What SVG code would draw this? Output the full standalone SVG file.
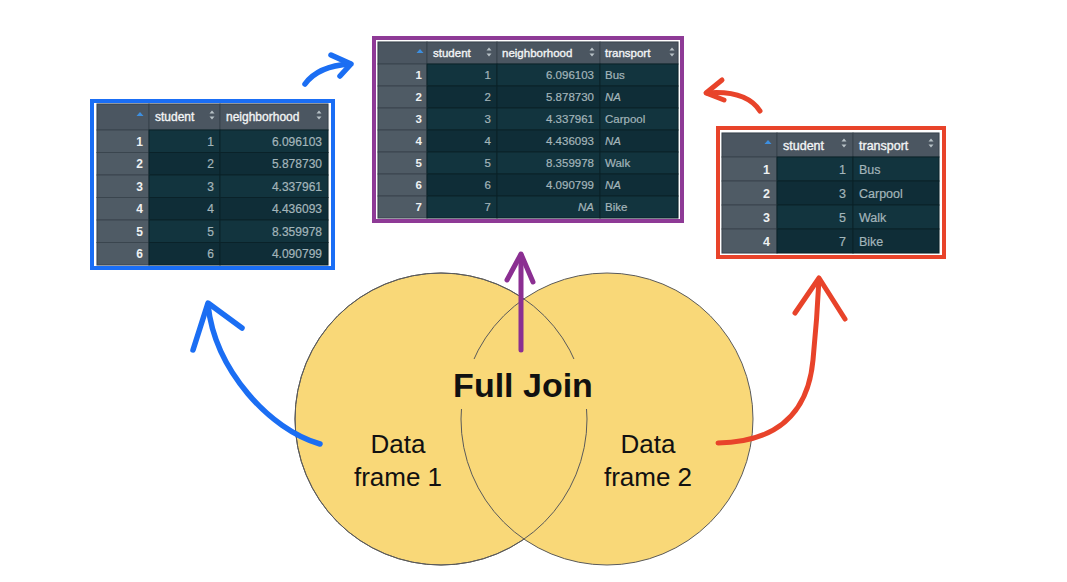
<svg xmlns="http://www.w3.org/2000/svg" xmlns:xlink="http://www.w3.org/1999/xlink" width="1067" height="582" viewBox="0 0 1067 582">
<style>
.hd{fill:#4b5661;stroke:#39434c;stroke-width:1}
.rn{fill:#4f5b65;stroke:#3a454e;stroke-width:1}
.c1{fill:#12343e;stroke:#0a2229;stroke-width:1}
.c2{fill:#0f2d37;stroke:#0a2229;stroke-width:1}
.ht{font-family:"Liberation Sans",Arial,sans-serif;fill:#f2f4f5;stroke:#f2f4f5;stroke-width:0.35}
.nt{font-family:"Liberation Sans",Arial,sans-serif;fill:#eef1f2;font-weight:bold;text-anchor:end}
.dv{font-family:"Liberation Sans",Arial,sans-serif;fill:#a3b5ba;stroke:#a3b5ba;stroke-width:0.2;text-anchor:end}
.dl{font-family:"Liberation Sans",Arial,sans-serif;fill:#a3b5ba;stroke:#a3b5ba;stroke-width:0.2}
.na{font-style:italic}
.venn{fill:#f9d878;stroke:#5a5a5a;stroke-width:1}
.lbl{font-family:"Liberation Sans",Arial,sans-serif;fill:#111;font-size:26px;text-anchor:middle}
.arr{fill:none;stroke-linecap:round;stroke-linejoin:round}
</style>
<defs>
<g id="sort"><polygon points="-2.5,-1.5 2.5,-1.5 0,-4.5" fill="#b8c2c7"/><polygon points="-2.5,1.5 2.5,1.5 0,4.5" fill="#b8c2c7"/></g>
<polygon id="tri" points="-3.5,2 3.5,2 0,-2" fill="#3d8fe0"/>
</defs>
<rect width="1067" height="582" fill="#ffffff"/>

<g id="venn">
<circle class="venn" cx="441" cy="419" r="146"/>
<circle class="venn" cx="607" cy="419" r="146"/>
<circle cx="441" cy="419" r="146" fill="none" stroke="#5a5a5a" stroke-width="1"/>
<rect x="456" y="359" width="136" height="50" fill="#f9d878"/>
<text x="523" y="397" font-family="Liberation Sans,Arial,sans-serif" font-weight="bold" font-size="34" fill="#111" text-anchor="middle">Full Join</text>
</g>
<g id="df1">
<text class="lbl" x="398" y="453">Data</text>
<text class="lbl" x="398" y="486">frame 1</text>
</g>
<g id="df2">
<text class="lbl" x="648" y="453">Data</text>
<text class="lbl" x="648" y="486">frame 2</text>
</g>

<g id="table1">
<rect x="92" y="101" width="241" height="167" fill="#ffffff" stroke="#1a6ef5" stroke-width="4"/>
<rect x="96.5" y="103.5" width="232" height="162" fill="#d8dcde"/>
<rect class="hd" x="97" y="104" width="52" height="26"/>
<rect class="hd" x="149" y="104" width="71" height="26"/>
<rect class="hd" x="220" y="104" width="108" height="26"/>
<use xlink:href="#tri" x="140" y="114"/>
<use xlink:href="#sort" x="212" y="115"/>
<use xlink:href="#sort" x="319" y="115"/>
<text class="ht" x="155" y="121" font-size="12">student</text>
<text class="ht" x="226" y="121" font-size="12">neighborhood</text>
<g font-size="12">
<rect class="rn" x="97" y="130" width="52" height="22.5"/><rect class="c1" x="149" y="130" width="71" height="22.5"/><rect class="c1" x="220" y="130" width="108" height="22.5"/>
<rect class="rn" x="97" y="152.5" width="52" height="22.5"/><rect class="c2" x="149" y="152.5" width="71" height="22.5"/><rect class="c2" x="220" y="152.5" width="108" height="22.5"/>
<rect class="rn" x="97" y="175" width="52" height="22.5"/><rect class="c1" x="149" y="175" width="71" height="22.5"/><rect class="c1" x="220" y="175" width="108" height="22.5"/>
<rect class="rn" x="97" y="197.5" width="52" height="22.5"/><rect class="c2" x="149" y="197.5" width="71" height="22.5"/><rect class="c2" x="220" y="197.5" width="108" height="22.5"/>
<rect class="rn" x="97" y="220" width="52" height="22.5"/><rect class="c1" x="149" y="220" width="71" height="22.5"/><rect class="c1" x="220" y="220" width="108" height="22.5"/>
<rect class="rn" x="97" y="242.5" width="52" height="22.5"/><rect class="c2" x="149" y="242.5" width="71" height="22.5"/><rect class="c2" x="220" y="242.5" width="108" height="22.5"/>
<text class="nt" x="143" y="145.5">1</text><text class="dv" x="214" y="145.5">1</text><text class="dv" x="322" y="145.5">6.096103</text>
<text class="nt" x="143" y="168">2</text><text class="dv" x="214" y="168">2</text><text class="dv" x="322" y="168">5.878730</text>
<text class="nt" x="143" y="190.5">3</text><text class="dv" x="214" y="190.5">3</text><text class="dv" x="322" y="190.5">4.337961</text>
<text class="nt" x="143" y="213">4</text><text class="dv" x="214" y="213">4</text><text class="dv" x="322" y="213">4.436093</text>
<text class="nt" x="143" y="235.5">5</text><text class="dv" x="214" y="235.5">5</text><text class="dv" x="322" y="235.5">8.359978</text>
<text class="nt" x="143" y="258">6</text><text class="dv" x="214" y="258">6</text><text class="dv" x="322" y="258">4.090799</text>
</g>
</g>

<g id="table2">
<rect x="374" y="38" width="308" height="183" fill="#ffffff" stroke="#8e3a96" stroke-width="4"/>
<rect x="377.5" y="41.5" width="301" height="177" fill="#d8dcde"/>
<rect class="hd" x="378" y="42" width="49" height="22"/>
<rect class="hd" x="427" y="42" width="70" height="22"/>
<rect class="hd" x="497" y="42" width="103" height="22"/>
<rect class="hd" x="600" y="42" width="78" height="22"/>
<use xlink:href="#tri" x="420" y="51"/>
<use xlink:href="#sort" x="489" y="52"/>
<use xlink:href="#sort" x="592" y="52"/>
<use xlink:href="#sort" x="672" y="52"/>
<text class="ht" x="433" y="57" font-size="11.5">student</text>
<text class="ht" x="502" y="57" font-size="11.5">neighborhood</text>
<text class="ht" x="605" y="57" font-size="11.5">transport</text>
<g font-size="11.5">
<rect class="rn" x="378" y="64" width="49" height="22"/><rect class="c1" x="427" y="64" width="70" height="22"/><rect class="c1" x="497" y="64" width="103" height="22"/><rect class="c1" x="600" y="64" width="78" height="22"/>
<rect class="rn" x="378" y="86" width="49" height="22"/><rect class="c2" x="427" y="86" width="70" height="22"/><rect class="c2" x="497" y="86" width="103" height="22"/><rect class="c2" x="600" y="86" width="78" height="22"/>
<rect class="rn" x="378" y="108" width="49" height="22"/><rect class="c1" x="427" y="108" width="70" height="22"/><rect class="c1" x="497" y="108" width="103" height="22"/><rect class="c1" x="600" y="108" width="78" height="22"/>
<rect class="rn" x="378" y="130" width="49" height="22"/><rect class="c2" x="427" y="130" width="70" height="22"/><rect class="c2" x="497" y="130" width="103" height="22"/><rect class="c2" x="600" y="130" width="78" height="22"/>
<rect class="rn" x="378" y="152" width="49" height="22"/><rect class="c1" x="427" y="152" width="70" height="22"/><rect class="c1" x="497" y="152" width="103" height="22"/><rect class="c1" x="600" y="152" width="78" height="22"/>
<rect class="rn" x="378" y="174" width="49" height="22"/><rect class="c2" x="427" y="174" width="70" height="22"/><rect class="c2" x="497" y="174" width="103" height="22"/><rect class="c2" x="600" y="174" width="78" height="22"/>
<rect class="rn" x="378" y="196" width="49" height="22"/><rect class="c1" x="427" y="196" width="70" height="22"/><rect class="c1" x="497" y="196" width="103" height="22"/><rect class="c1" x="600" y="196" width="78" height="22"/>
<text class="nt" x="422" y="79">1</text><text class="dv" x="491" y="79">1</text><text class="dv" x="594" y="79">6.096103</text><text class="dl" x="605" y="79">Bus</text>
<text class="nt" x="422" y="101">2</text><text class="dv" x="491" y="101">2</text><text class="dv" x="594" y="101">5.878730</text><text class="dl na" x="605" y="101">NA</text>
<text class="nt" x="422" y="123">3</text><text class="dv" x="491" y="123">3</text><text class="dv" x="594" y="123">4.337961</text><text class="dl" x="605" y="123">Carpool</text>
<text class="nt" x="422" y="145">4</text><text class="dv" x="491" y="145">4</text><text class="dv" x="594" y="145">4.436093</text><text class="dl na" x="605" y="145">NA</text>
<text class="nt" x="422" y="167">5</text><text class="dv" x="491" y="167">5</text><text class="dv" x="594" y="167">8.359978</text><text class="dl" x="605" y="167">Walk</text>
<text class="nt" x="422" y="189">6</text><text class="dv" x="491" y="189">6</text><text class="dv" x="594" y="189">4.090799</text><text class="dl na" x="605" y="189">NA</text>
<text class="nt" x="422" y="211">7</text><text class="dv" x="491" y="211">7</text><text class="dv na" x="594" y="211">NA</text><text class="dl" x="605" y="211">Bike</text>
</g>
</g>

<g id="table3">
<rect x="718" y="128" width="226" height="129" fill="#ffffff" stroke="#e8432a" stroke-width="4"/>
<rect x="721.5" y="132.5" width="218" height="121" fill="#d8dcde"/>
<rect class="hd" x="722" y="133" width="55" height="24"/>
<rect class="hd" x="777" y="133" width="76" height="24"/>
<rect class="hd" x="853" y="133" width="86" height="24"/>
<use xlink:href="#tri" x="768" y="142"/>
<use xlink:href="#sort" x="844" y="143"/>
<use xlink:href="#sort" x="931" y="143"/>
<text class="ht" x="783" y="149.5" font-size="12.5">student</text>
<text class="ht" x="859" y="149.5" font-size="12.5">transport</text>
<g font-size="12.5">
<rect class="rn" x="722" y="157" width="55" height="24"/><rect class="c1" x="777" y="157" width="76" height="24"/><rect class="c1" x="853" y="157" width="86" height="24"/>
<rect class="rn" x="722" y="181" width="55" height="24"/><rect class="c2" x="777" y="181" width="76" height="24"/><rect class="c2" x="853" y="181" width="86" height="24"/>
<rect class="rn" x="722" y="205" width="55" height="24"/><rect class="c1" x="777" y="205" width="76" height="24"/><rect class="c1" x="853" y="205" width="86" height="24"/>
<rect class="rn" x="722" y="229" width="55" height="24"/><rect class="c2" x="777" y="229" width="76" height="24"/><rect class="c2" x="853" y="229" width="86" height="24"/>
<text class="nt" x="770" y="173.5">1</text><text class="dv" x="846" y="173.5">1</text><text class="dl" x="859" y="173.5">Bus</text>
<text class="nt" x="770" y="197.5">2</text><text class="dv" x="846" y="197.5">3</text><text class="dl" x="859" y="197.5">Carpool</text>
<text class="nt" x="770" y="221.5">3</text><text class="dv" x="846" y="221.5">5</text><text class="dl" x="859" y="221.5">Walk</text>
<text class="nt" x="770" y="245.5">4</text><text class="dv" x="846" y="245.5">7</text><text class="dl" x="859" y="245.5">Bike</text>
</g>
</g>

<g id="connectors">
<g class="arr" stroke="#1b6ef3" stroke-width="5.5">
<path d="M305,84 Q318,66 350,64"/>
<path d="M331,55 L351,64 L340,76"/>
<path d="M320,444 C270,430 215,370 208,305"/>
<path d="M193,350 L208,303 L242,328"/>
</g>
<g class="arr" stroke="#e8432a" stroke-width="5">
<path d="M760,111 Q746,90 707,93"/>
<path d="M722,80 L706,93 L724,100"/>
<path d="M718,443 C775,442 808,415 813,360 C816,330 818,300 819,279"/>
<path d="M795,313 L819,278 L845,319"/>
</g>
<g class="arr" stroke="#8b2f92" stroke-width="5">
<path d="M521,350 L521,255"/>
<path d="M507,280 L521,254 L533,282"/>
</g>
</g>
</svg>
